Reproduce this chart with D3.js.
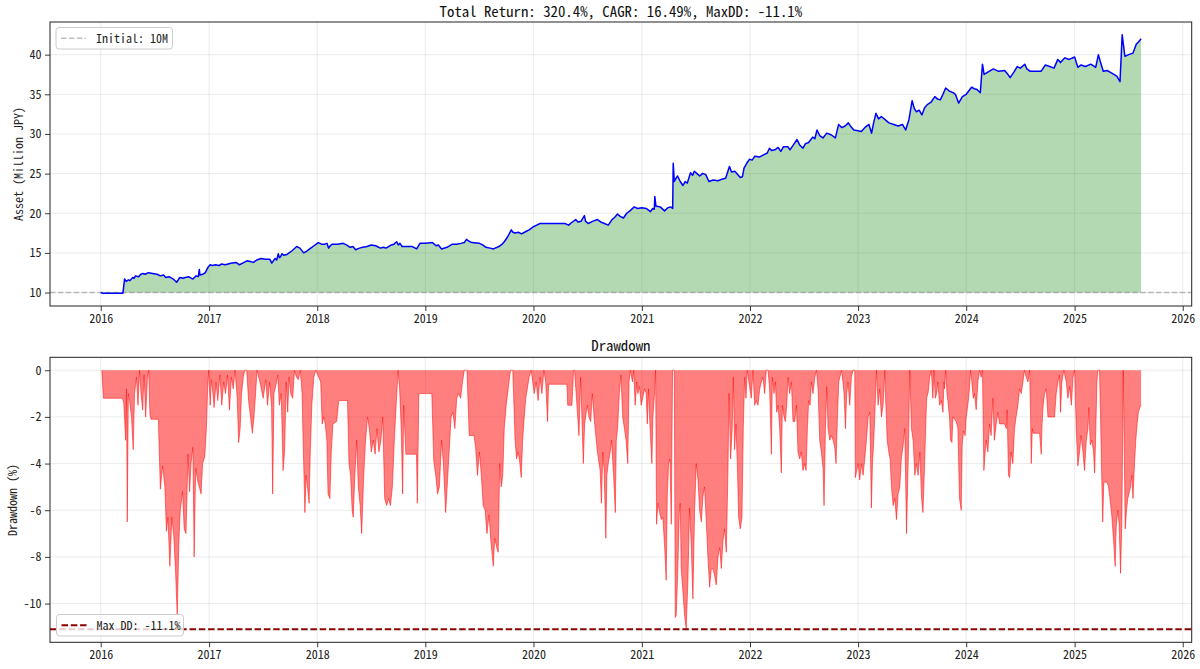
<!DOCTYPE html>
<html>
<head>
<meta charset="utf-8">
<script src="https://d3js.org/d3.v7.min.js"></script>
<style>
  body { margin: 0; background: #fff; }
  svg { display: block; }
  text { font-family: 'Noto Sans Mono CJK JP', 'Noto Sans CJK JP', 'DejaVu Sans Mono', monospace; }
</style>
</head>
<body>
<svg id="chart" width="1200" height="669"></svg>
<script>
// values, time given as decimal years
var assetData = [
  [2016.0, 10.0], [2016.02, 9.92], [2016.205, 9.92], [2016.22, 11.7], [2016.235, 11.4],
  [2016.255, 11.6], [2016.27, 11.5], [2016.295, 11.9], [2016.31, 11.8], [2016.32, 12.1],
  [2016.35, 12.0], [2016.37, 12.3], [2016.39, 12.4], [2016.41, 12.3], [2016.44, 12.5],
  [2016.48, 12.4], [2016.52, 12.3], [2016.55, 12.1], [2016.58, 12.2], [2016.6, 11.9],
  [2016.63, 12.0], [2016.67, 11.7], [2016.70, 11.3], [2016.73, 11.9], [2016.76, 11.8],
  [2016.78, 11.9], [2016.81, 12.0], [2016.85, 11.7], [2016.88, 12.1], [2016.9, 12.0],
  [2016.91, 12.9], [2016.915, 12.2], [2016.94, 12.3], [2016.965, 12.5], [2016.99, 13.2],
  [2017.01, 13.5], [2017.03, 13.4], [2017.06, 13.5], [2017.09, 13.4], [2017.115, 13.6],
  [2017.15, 13.5], [2017.2, 13.7], [2017.25, 13.8], [2017.28, 13.5], [2017.31, 13.7],
  [2017.35, 14.0], [2017.38, 13.9], [2017.41, 13.8], [2017.44, 14.1], [2017.48, 14.3],
  [2017.52, 14.2], [2017.56, 14.2], [2017.58, 13.7], [2017.61, 14.3], [2017.625, 14.1],
  [2017.64, 14.9], [2017.65, 14.4], [2017.66, 14.5], [2017.675, 14.9], [2017.69, 14.7],
  [2017.72, 14.8], [2017.74, 15.0], [2017.77, 15.3], [2017.81, 15.8], [2017.84, 15.6],
  [2017.875, 15.0], [2017.9, 15.2], [2017.94, 15.6], [2017.97, 15.9], [2018.01, 16.3],
  [2018.04, 16.1], [2018.07, 16.1], [2018.09, 16.2], [2018.105, 15.6], [2018.12, 15.9],
  [2018.14, 16.1], [2018.19, 16.1], [2018.24, 16.2], [2018.27, 16.0], [2018.305, 15.7],
  [2018.33, 15.8], [2018.355, 15.4], [2018.39, 15.6], [2018.42, 15.7], [2018.46, 15.8],
  [2018.5, 16.0], [2018.54, 15.9], [2018.585, 15.6], [2018.61, 15.7], [2018.635, 15.6],
  [2018.66, 15.8], [2018.685, 16.0], [2018.71, 16.1], [2018.735, 16.4], [2018.75, 16.0],
  [2018.765, 16.2], [2018.785, 15.8], [2018.835, 15.8], [2018.88, 15.8], [2018.92, 15.5],
  [2018.95, 16.2], [2019.0, 16.2], [2019.065, 16.3], [2019.1, 15.9], [2019.12, 16.0],
  [2019.15, 15.5], [2019.2, 15.7], [2019.25, 16.1], [2019.29, 16.1], [2019.33, 16.2],
  [2019.36, 16.3], [2019.38, 16.7], [2019.4, 16.5], [2019.43, 16.3], [2019.5, 16.2],
  [2019.53, 16.0], [2019.56, 15.7], [2019.6, 15.6], [2019.63, 15.5], [2019.68, 15.8],
  [2019.71, 16.1], [2019.73, 16.4], [2019.76, 17.0], [2019.795, 17.9], [2019.81, 17.6],
  [2019.83, 17.5], [2019.86, 17.6], [2019.89, 17.4], [2019.93, 17.7], [2019.96, 17.9],
  [2020.0, 18.3], [2020.03, 18.5], [2020.06, 18.7], [2020.125, 18.7], [2020.29, 18.7],
  [2020.325, 18.5], [2020.35, 18.8], [2020.39, 19.2], [2020.41, 18.9], [2020.44, 19.0],
  [2020.47, 19.7], [2020.48, 19.0], [2020.505, 18.7], [2020.55, 19.0], [2020.59, 19.2],
  [2020.62, 18.9], [2020.655, 18.7], [2020.69, 18.5], [2020.725, 19.2], [2020.75, 19.5],
  [2020.775, 19.9], [2020.8, 19.6], [2020.83, 19.4], [2020.86, 20.0], [2020.89, 20.3],
  [2020.93, 20.8], [2020.96, 20.6], [2021.0, 20.7], [2021.04, 20.6], [2021.08, 20.2],
  [2021.1, 20.6], [2021.115, 20.5], [2021.12, 22.1], [2021.13, 20.9], [2021.17, 20.8],
  [2021.21, 20.3], [2021.24, 20.7], [2021.265, 20.8], [2021.285, 20.6], [2021.29, 26.3],
  [2021.3, 24.0], [2021.315, 24.4], [2021.33, 24.7], [2021.355, 24.0], [2021.38, 23.5],
  [2021.4, 24.0], [2021.42, 23.8], [2021.45, 25.1], [2021.47, 24.8], [2021.485, 25.3],
  [2021.51, 25.0], [2021.535, 24.7], [2021.56, 25.0], [2021.59, 24.9], [2021.62, 24.0],
  [2021.66, 24.2], [2021.705, 24.1], [2021.74, 24.3], [2021.775, 24.4], [2021.81, 25.9],
  [2021.83, 25.2], [2021.86, 25.3], [2021.91, 24.5], [2021.93, 24.6], [2021.945, 25.7],
  [2021.97, 26.3], [2021.995, 26.8], [2022.02, 26.7], [2022.045, 27.2], [2022.09, 27.1],
  [2022.13, 27.4], [2022.16, 27.6], [2022.18, 28.2], [2022.2, 27.9], [2022.23, 28.0],
  [2022.26, 28.3], [2022.285, 27.8], [2022.31, 28.4], [2022.35, 28.4], [2022.37, 28.0],
  [2022.4, 28.6], [2022.435, 29.3], [2022.46, 28.6], [2022.49, 28.2], [2022.515, 28.8],
  [2022.54, 28.9], [2022.58, 29.6], [2022.6, 29.4], [2022.62, 30.5], [2022.645, 29.8],
  [2022.675, 29.5], [2022.71, 30.1], [2022.75, 29.9], [2022.79, 29.5], [2022.82, 31.2],
  [2022.85, 30.8], [2022.88, 31.0], [2022.91, 31.4], [2022.935, 30.9], [2022.96, 30.5],
  [2023.0, 30.4], [2023.03, 30.3], [2023.07, 30.9], [2023.1, 31.2], [2023.125, 30.1],
  [2023.145, 31.5], [2023.165, 32.6], [2023.19, 31.9], [2023.215, 32.2], [2023.25, 31.8],
  [2023.285, 31.4], [2023.33, 31.2], [2023.37, 31.0], [2023.41, 31.2], [2023.44, 30.5],
  [2023.47, 31.8], [2023.5, 34.2], [2023.52, 33.2], [2023.54, 32.8], [2023.565, 33.0],
  [2023.59, 32.4], [2023.615, 33.3], [2023.64, 33.7], [2023.675, 34.0], [2023.71, 34.7],
  [2023.735, 34.4], [2023.76, 34.3], [2023.785, 35.0], [2023.81, 35.8], [2023.845, 35.4],
  [2023.88, 35.2], [2023.9, 35.0], [2023.93, 33.9], [2023.965, 34.7], [2024.0, 35.0],
  [2024.05, 35.9], [2024.075, 35.7], [2024.1, 35.6], [2024.13, 35.2], [2024.15, 38.8],
  [2024.165, 37.5], [2024.2, 37.8], [2024.25, 38.2], [2024.3, 37.9], [2024.355, 38.0],
  [2024.38, 37.6], [2024.405, 37.1], [2024.44, 37.8], [2024.47, 38.5], [2024.5, 38.3],
  [2024.54, 38.8], [2024.56, 38.2], [2024.59, 37.9], [2024.69, 37.9], [2024.73, 38.7],
  [2024.77, 38.5], [2024.81, 38.3], [2024.845, 39.4], [2024.87, 39.0], [2024.91, 39.6],
  [2024.95, 39.4], [2025.0, 39.7], [2025.03, 38.4], [2025.06, 38.7], [2025.1, 38.5],
  [2025.15, 38.8], [2025.195, 38.4], [2025.22, 40.0], [2025.24, 39.0], [2025.265, 37.9],
  [2025.3, 38.0], [2025.34, 37.7], [2025.39, 37.3], [2025.42, 36.6], [2025.44, 42.5],
  [2025.465, 39.8], [2025.5, 40.0], [2025.54, 40.2], [2025.57, 41.3], [2025.59, 41.6],
  [2025.615, 42.0]
];

var drawdownData = [
  [2016.01, 0], [2016.025, -1.2], [2016.2, -1.2], [2016.213, -1.4], [2016.23, -3.0],
  [2016.238, -0.8], [2016.245, -6.5], [2016.255, -1.0], [2016.266, -1.3], [2016.284, -2.0],
  [2016.30, -3.4], [2016.312, -1.0], [2016.33, -0.3], [2016.344, -1.5], [2016.358, 0],
  [2016.372, -1.0], [2016.387, -1.7], [2016.40, -0.2], [2016.415, -2.0], [2016.43, -0.4],
  [2016.443, 0], [2016.454, -1.9], [2016.465, -2.1], [2016.532, -2.1], [2016.55, -5.1],
  [2016.571, -4.1], [2016.592, -5.0], [2016.606, -6.9], [2016.62, -6.3], [2016.638, -8.4],
  [2016.656, -6.3], [2016.674, -7.1], [2016.69, -8.6], [2016.706, -10.5], [2016.72, -7.5],
  [2016.734, -6.0], [2016.755, -5.2], [2016.77, -6.8], [2016.787, -7.0], [2016.805, -3.6],
  [2016.82, -5.2], [2016.833, -4.0], [2016.85, -3.3], [2016.862, -8.0], [2016.876, -4.2],
  [2016.897, -4.8], [2016.91, -5.0], [2016.926, -5.3], [2016.94, -4.0], [2016.96, -3.7],
  [2016.975, -2.5], [2016.986, -0.8], [2016.996, 0],
  [2017.01, -1.5], [2017.02, -0.4], [2017.035, -1.0], [2017.046, -1.6], [2017.064, -0.5],
  [2017.08, -1.3], [2017.1, -0.2], [2017.117, -1.5], [2017.135, -0.5], [2017.152, -1.0],
  [2017.17, -0.2], [2017.188, -1.7], [2017.206, -0.3], [2017.223, -0.8], [2017.24, 0],
  [2017.26, -1.2], [2017.273, -3.1], [2017.287, -2.5], [2017.3, -1.0], [2017.316, -0.3],
  [2017.33, 0], [2017.348, 0], [2017.365, -1.3], [2017.383, -2.0], [2017.40, -2.7],
  [2017.415, -2.0], [2017.43, -1.0], [2017.443, 0], [2017.47, -0.5], [2017.5, -1.2],
  [2017.525, -0.4], [2017.54, -1.5], [2017.56, -0.5], [2017.578, -1.6], [2017.588, -5.3],
  [2017.6, -1.0], [2017.62, -0.6], [2017.635, -0.2], [2017.65, -1.5], [2017.667, -1.0],
  [2017.684, -4.3], [2017.698, -3.5], [2017.713, -0.5], [2017.727, -1.8], [2017.74, -0.3],
  [2017.755, -1.0], [2017.773, -1.2], [2017.79, 0], [2017.808, -0.3], [2017.826, -0.4],
  [2017.844, 0], [2017.86, -1.0], [2017.872, -3.5], [2017.886, -6.1], [2017.897, -4.5],
  [2017.91, -5.0], [2017.925, -5.7], [2017.936, -3.5], [2017.95, -1.5], [2017.968, -0.3],
  [2017.986, 0],
  [2018.014, -0.3], [2018.032, -0.5], [2018.046, -2.3], [2018.06, -2.0], [2018.074, -2.3],
  [2018.089, -3.0], [2018.1, -5.3], [2018.117, -5.5], [2018.13, -3.5], [2018.145, -2.3],
  [2018.18, -2.2], [2018.199, -1.3], [2018.28, -1.3], [2018.294, -4.0], [2018.309, -4.5],
  [2018.323, -6.0], [2018.333, -6.3], [2018.348, -4.5], [2018.365, -3.0], [2018.38, -5.0],
  [2018.397, -5.8], [2018.411, -7.0], [2018.43, -4.5], [2018.447, -3.0], [2018.465, -2.0],
  [2018.482, -2.5], [2018.5, -3.5], [2018.518, -3.0], [2018.535, -3.6], [2018.553, -2.5],
  [2018.57, -3.5], [2018.589, -3.0], [2018.606, -2.0], [2018.624, -5.5], [2018.642, -5.8],
  [2018.66, -5.5], [2018.677, -5.8], [2018.695, -5.0], [2018.713, -3.0], [2018.73, -1.5],
  [2018.748, 0], [2018.762, -0.8], [2018.777, -2.5], [2018.79, -5.3], [2018.8, -1.5],
  [2018.82, -3.6], [2018.918, -3.6], [2018.926, -5.7], [2018.94, -1.0],
  [2019.06, -1.0], [2019.078, -3.9], [2019.096, -4.5], [2019.113, -5.3], [2019.13, -5.0],
  [2019.15, -3.0], [2019.167, -4.0], [2019.188, -6.1], [2019.202, -5.0], [2019.22, -3.5],
  [2019.238, -2.0], [2019.255, -1.8], [2019.273, -2.5], [2019.29, -1.2], [2019.308, -1.0],
  [2019.326, -1.2], [2019.344, -0.5], [2019.36, 0], [2019.385, 0], [2019.406, -2.8],
  [2019.45, -2.8], [2019.465, -3.3], [2019.482, -4.5], [2019.5, -3.5], [2019.518, -4.5],
  [2019.535, -5.8], [2019.553, -6.0], [2019.57, -7.0], [2019.589, -6.2], [2019.606, -7.3],
  [2019.628, -8.4], [2019.642, -7.2], [2019.66, -7.6], [2019.674, -7.8], [2019.688, -4.0],
  [2019.702, -5.0], [2019.716, -4.5], [2019.73, -2.5], [2019.748, -1.5], [2019.766, -0.8],
  [2019.787, 0], [2019.809, 0], [2019.83, -3.0], [2019.844, -3.8], [2019.858, -3.5],
  [2019.872, -3.9], [2019.887, -4.6], [2019.9, -3.0], [2019.915, -2.0], [2019.929, -1.2],
  [2019.943, -0.8], [2019.96, -0.3], [2019.979, 0],
  [2020.007, -1.0], [2020.025, -0.5], [2020.043, -1.3], [2020.06, -0.3], [2020.078, -1.0],
  [2020.096, 0], [2020.113, -0.5], [2020.13, -2.2], [2020.14, -0.6], [2020.309, -0.6],
  [2020.316, -1.5], [2020.355, -1.5], [2020.37, 0], [2020.379, 0], [2020.398, -1.3],
  [2020.42, -2.8], [2020.435, -0.3], [2020.46, -4.0], [2020.472, -2.3], [2020.497, -1.5],
  [2020.512, -2.0], [2020.528, -2.2], [2020.543, -1.0], [2020.559, -2.0], [2020.575, -2.8],
  [2020.59, -3.5], [2020.615, -4.3], [2020.627, -5.7], [2020.64, -3.5], [2020.652, -4.3],
  [2020.668, -7.2], [2020.677, -4.5], [2020.69, -4.0], [2020.708, -3.5], [2020.72, -3.0],
  [2020.739, -4.5], [2020.755, -6.1], [2020.764, -3.0], [2020.776, -2.5], [2020.792, -1.0],
  [2020.807, -0.2], [2020.823, -2.0], [2020.839, -2.5], [2020.854, -3.0], [2020.87, -4.0],
  [2020.882, -0.5], [2020.894, 0], [2020.913, -0.5], [2020.925, 0], [2020.938, -1.5],
  [2020.953, -0.5], [2020.963, -1.0], [2020.978, -0.7], [2020.994, -1.5],
  [2021.025, -0.8], [2021.04, -1.0], [2021.05, -2.3], [2021.062, -0.8], [2021.074, -2.3],
  [2021.093, -4.0], [2021.102, -2.0], [2021.117, -1.0], [2021.127, 0], [2021.136, -6.6],
  [2021.148, -5.7], [2021.164, -6.1], [2021.18, -6.4], [2021.194, -6.3], [2021.21, -7.5],
  [2021.225, -9.0], [2021.235, -5.4], [2021.247, -4.0], [2021.26, -3.8], [2021.272, -6.6],
  [2021.284, 0], [2021.3, 0], [2021.309, -10.6], [2021.318, -10.5], [2021.333, -8.5],
  [2021.346, -6.1], [2021.355, -5.7], [2021.364, -8.5], [2021.38, -9.5], [2021.395, -10.5],
  [2021.41, -11.1], [2021.426, -9.0], [2021.441, -5.9], [2021.457, -7.5], [2021.472, -9.8],
  [2021.488, -6.0], [2021.503, -4.0], [2021.519, -4.7], [2021.534, -6.0], [2021.55, -6.5],
  [2021.565, -5.4], [2021.58, -5.0], [2021.596, -6.5], [2021.611, -8.0], [2021.627, -9.3],
  [2021.642, -8.5], [2021.657, -8.5], [2021.673, -8.8], [2021.688, -9.2], [2021.704, -8.0],
  [2021.72, -7.6], [2021.735, -8.5], [2021.75, -7.3], [2021.765, -6.8], [2021.781, -7.8],
  [2021.796, -4.4], [2021.806, -1.0], [2021.821, -3.8], [2021.836, -2.5], [2021.846, -0.3],
  [2021.858, -3.4], [2021.87, -2.3], [2021.883, -4.0], [2021.895, -6.3], [2021.91, -6.8],
  [2021.926, -6.3], [2021.938, -2.5], [2021.951, -0.3], [2021.963, -1.2], [2021.975, 0],
  [2022.012, -1.2], [2022.028, 0], [2022.043, -1.5], [2022.059, -1.3], [2022.074, -1.5],
  [2022.09, -0.8], [2022.105, -0.5], [2022.12, -0.3], [2022.136, -1.0], [2022.151, 0],
  [2022.167, 0], [2022.182, -0.8], [2022.198, -3.6], [2022.207, -0.3], [2022.222, -1.0],
  [2022.235, -0.5], [2022.247, -1.8], [2022.26, -1.5], [2022.275, -2.5], [2022.29, -4.4],
  [2022.3, -1.5], [2022.315, -2.0], [2022.327, -2.2], [2022.34, -1.5], [2022.352, -0.3],
  [2022.367, -1.0], [2022.383, -0.5], [2022.398, -2.2], [2022.414, -2.2], [2022.43, -1.5],
  [2022.444, -3.5], [2022.46, -3.8], [2022.475, -3.5], [2022.49, -4.3], [2022.506, -4.0],
  [2022.519, -4.3], [2022.531, -2.5], [2022.543, -1.3], [2022.556, -1.5], [2022.568, -0.5],
  [2022.583, -1.0], [2022.6, -0.3], [2022.615, 0], [2022.63, -0.8], [2022.645, -3.0],
  [2022.66, -3.5], [2022.676, -4.2], [2022.685, -5.8], [2022.698, -2.5], [2022.71, -0.7],
  [2022.722, -2.5], [2022.738, -3.0], [2022.753, -2.8], [2022.769, -3.0], [2022.784, -3.3],
  [2022.796, -4.0], [2022.809, -2.0], [2022.821, -0.5], [2022.846, 0], [2022.86, -0.5],
  [2022.87, -1.0], [2022.883, -2.5], [2022.895, -1.0], [2022.907, -0.5], [2022.923, -1.5],
  [2022.938, -0.3], [2022.954, 0], [2022.969, 0], [2022.975, -4.6], [2023.0, -4.0],
  [2023.015, -4.7], [2023.031, -4.0], [2023.046, -4.5], [2023.062, -3.8], [2023.077, -3.0],
  [2023.093, -2.0], [2023.108, -1.8], [2023.123, -5.9], [2023.133, -4.0], [2023.145, -3.0],
  [2023.154, -2.0], [2023.17, 0], [2023.185, -1.5], [2023.2, -0.8], [2023.216, -2.0],
  [2023.231, -1.5], [2023.247, 0], [2023.253, -1.0], [2023.269, -3.0], [2023.284, -3.5],
  [2023.296, -3.8], [2023.309, -5.0], [2023.324, -5.8], [2023.34, -5.5], [2023.355, -6.4],
  [2023.37, -5.3], [2023.386, -5.0], [2023.4, -3.8], [2023.417, -3.2], [2023.432, -2.5],
  [2023.448, -7.0], [2023.463, -4.0], [2023.478, 0], [2023.494, -2.5], [2023.509, -3.0],
  [2023.525, -4.5], [2023.54, -4.0], [2023.556, -4.5], [2023.571, -3.5], [2023.587, -5.5],
  [2023.6, -6.1], [2023.614, -4.2], [2023.625, -2.5], [2023.634, -1.2], [2023.646, -1.0],
  [2023.652, -0.8], [2023.662, -0.3], [2023.677, 0], [2023.692, -1.2], [2023.702, 0],
  [2023.714, -1.2], [2023.726, -1.0], [2023.738, -0.5], [2023.754, -1.5], [2023.77, -1.3],
  [2023.785, -1.8], [2023.794, -0.5], [2023.8, -0.8], [2023.81, 0], [2023.822, -1.0],
  [2023.83, -1.3], [2023.846, -2.0], [2023.855, -3.0], [2023.868, -3.1], [2023.877, -2.0],
  [2023.892, -2.1], [2023.908, -2.2], [2023.923, -2.5], [2023.938, -5.5], [2023.954, -6.0],
  [2023.963, -3.2], [2023.975, -2.6], [2023.99, -2.8], [2024.0, -2.0], [2024.015, -1.5],
  [2024.03, -0.8], [2024.04, 0], [2024.052, -0.5], [2024.065, -1.2], [2024.077, -1.0],
  [2024.092, -1.7], [2024.108, -0.5], [2024.123, 0], [2024.138, -0.3], [2024.15, 0],
  [2024.163, -4.3], [2024.175, -3.5], [2024.185, -3.0], [2024.2, -3.5], [2024.215, -2.3],
  [2024.23, -2.8], [2024.246, -1.2], [2024.26, -3.0], [2024.277, -2.3], [2024.292, -1.8],
  [2024.308, -2.3], [2024.338, -2.3], [2024.354, -2.3], [2024.37, -2.5], [2024.378, -1.7],
  [2024.39, -4.5], [2024.4, -4.6], [2024.415, -3.5], [2024.43, -4.0], [2024.446, -2.5],
  [2024.46, -2.0], [2024.477, -1.5], [2024.492, -0.8], [2024.508, -1.0], [2024.523, -0.5],
  [2024.538, 0], [2024.554, -0.3], [2024.57, -0.5], [2024.585, 0], [2024.594, -2.0],
  [2024.6, -4.0], [2024.61, -2.5], [2024.618, -2.7], [2024.677, -2.7], [2024.692, -3.6],
  [2024.7, -2.3], [2024.71, -1.5], [2024.723, -1.0], [2024.738, -0.8], [2024.754, -2.0],
  [2024.815, -2.0], [2024.83, -1.0], [2024.846, -0.5], [2024.86, -0.2], [2024.87, -1.8],
  [2024.883, -0.5], [2024.9, 0], [2024.923, -0.5], [2024.938, -1.2], [2024.954, -0.7],
  [2024.97, -1.5], [2024.985, -0.3], [2025.0, 0], [2025.015, -2.5], [2025.03, -4.1],
  [2025.046, -3.5], [2025.06, -2.8], [2025.077, -3.5], [2025.092, -4.3], [2025.108, -3.0],
  [2025.123, -2.5], [2025.132, -1.6], [2025.145, -3.2], [2025.16, -3.0], [2025.175, -3.5],
  [2025.185, -4.4], [2025.194, -3.0], [2025.206, -0.5], [2025.215, 0], [2025.23, 0],
  [2025.24, -2.0], [2025.252, -4.8], [2025.26, -6.5], [2025.27, -4.8], [2025.3, -4.8],
  [2025.314, -5.0], [2025.332, -5.7], [2025.345, -6.3], [2025.363, -7.5], [2025.375, -8.4],
  [2025.385, -6.7], [2025.4, -6.0], [2025.412, -6.6], [2025.425, -8.7], [2025.437, -6.5],
  [2025.45, 0], [2025.468, -6.8], [2025.48, -6.0], [2025.492, -5.5], [2025.517, -5.0],
  [2025.53, -4.5], [2025.54, -5.5], [2025.554, -4.0], [2025.566, -3.0], [2025.578, -2.3],
  [2025.59, -1.8], [2025.603, -1.6], [2025.615, -1.5]
];

var yearTicks = [2016, 2017, 2018, 2019, 2020, 2021, 2022, 2023, 2024, 2025, 2026];
var assetTicks = [10, 15, 20, 25, 30, 35, 40];
var drawdownTicks = [0, -2, -4, -6, -8, -10];
var initialAsset = 10;
var maxDrawdown = -11.1;
var titleText = 'Total Return: 320.4%, CAGR: 16.49%, MaxDD: -11.1%';

function toDate(y) {
  var yr = Math.floor(y);
  var start = Date.UTC(yr, 0, 1);
  var end = Date.UTC(yr + 1, 0, 1);
  return new Date(start + (y - yr) * (end - start));
}

var svg = d3.select('#chart');
var left = 50, right = 1191.7;

var x = d3.scaleUtc()
  .domain([toDate(2015.531), toDate(2026.083)])
  .range([left, right]);

var yTop = d3.scaleLinear().domain([8.3, 44.12]).range([306, 22]);
var yBot = d3.scaleLinear().domain([-11.66, 0.555]).range([642.3, 357.3]);

function drawPanel(id, y, ticks, top, bottom) {
  var g = svg.append('g').attr('class', 'panel-' + id);

  svg.append('clipPath').attr('id', 'clip-' + id)
    .append('rect')
    .attr('x', left).attr('y', top)
    .attr('width', right - left).attr('height', bottom - top);

  // grid
  g.append('g').selectAll('line').data(yearTicks).enter().append('line')
    .attr('x1', function (d) { return x(toDate(d)); })
    .attr('x2', function (d) { return x(toDate(d)); })
    .attr('y1', top).attr('y2', bottom)
    .attr('stroke', '#b0b0b0').attr('stroke-opacity', 0.3).attr('stroke-width', 0.8);
  g.append('g').selectAll('line').data(ticks).enter().append('line')
    .attr('x1', left).attr('x2', right)
    .attr('y1', function (d) { return y(d); })
    .attr('y2', function (d) { return y(d); })
    .attr('stroke', '#b0b0b0').attr('stroke-opacity', 0.3).attr('stroke-width', 0.8);

  var plot = g.append('g').attr('clip-path', 'url(#clip-' + id + ')');

  var xAxis = d3.axisBottom(x)
    .tickValues(yearTicks.map(toDate))
    .tickFormat(d3.utcFormat('%Y'))
    .tickSize(5).tickPadding(3);
  var yAxis = d3.axisLeft(y)
    .tickValues(ticks)
    .tickFormat(function (d) { return String(d); })
    .tickSize(5).tickPadding(3.5);

  var gx = g.append('g').attr('transform', 'translate(0,' + bottom + ')').call(xAxis);
  var gy = g.append('g').attr('transform', 'translate(' + left + ',0)').call(yAxis);
  [gx, gy].forEach(function (a) {
    a.select('.domain').remove();
    a.selectAll('line').attr('stroke', '#222').attr('stroke-width', 0.9);
    a.selectAll('text').attr('fill', '#222').style('font-size', '12px');
  });

  return { g: g, plot: plot };
}

// top panel: asset
var topPanel = drawPanel('asset', yTop, assetTicks, 22, 306);

topPanel.plot.append('path')
  .datum(assetData)
  .attr('fill', 'green').attr('fill-opacity', 0.3)
  .attr('d', d3.area()
    .x(function (d) { return x(toDate(d[0])); })
    .y0(yTop(initialAsset))
    .y1(function (d) { return yTop(d[1]); }));

topPanel.plot.append('line')
  .attr('x1', left).attr('x2', right)
  .attr('y1', yTop(initialAsset)).attr('y2', yTop(initialAsset))
  .attr('stroke', 'gray').attr('stroke-opacity', 0.5)
  .attr('stroke-width', 1.5).attr('stroke-dasharray', '5.5,2.4');

topPanel.plot.append('path')
  .datum(assetData)
  .attr('fill', 'none').attr('stroke', 'blue').attr('stroke-width', 1.5)
  .attr('stroke-linejoin', 'round')
  .attr('d', d3.line()
    .x(function (d) { return x(toDate(d[0])); })
    .y(function (d) { return yTop(d[1]); }));

// bottom panel: drawdown
var botPanel = drawPanel('dd', yBot, drawdownTicks, 357.3, 642.3);

botPanel.plot.append('path')
  .datum(drawdownData)
  .attr('fill', 'red').attr('fill-opacity', 0.5)
  .attr('d', d3.area()
    .x(function (d) { return x(toDate(d[0])); })
    .y0(yBot(0))
    .y1(function (d) { return yBot(d[1]); }));

botPanel.plot.append('path')
  .datum(drawdownData)
  .attr('fill', 'none').attr('stroke', 'red').attr('stroke-opacity', 0.5)
  .attr('stroke-width', 1)
  .attr('d', d3.line()
    .x(function (d) { return x(toDate(d[0])); })
    .y(function (d) { return yBot(d[1]); }));

botPanel.plot.append('line')
  .attr('x1', left).attr('x2', right)
  .attr('y1', yBot(maxDrawdown)).attr('y2', yBot(maxDrawdown))
  .attr('stroke', 'darkred').attr('stroke-width', 1.8)
  .attr('stroke-dasharray', '6.5,2.8');

// frames
[[22, 306], [357.3, 642.3]].forEach(function (r) {
  svg.append('rect')
    .attr('x', left).attr('y', r[0])
    .attr('width', right - left).attr('height', r[1] - r[0])
    .attr('fill', 'none').attr('stroke', '#222').attr('stroke-width', 1);
});

// legends
function legend(x0, y0, w, h, color, opacity, width, dash, label) {
  var lg = svg.append('g');
  lg.append('rect')
    .attr('x', x0).attr('y', y0).attr('width', w).attr('height', h)
    .attr('rx', 3).attr('fill', 'white').attr('fill-opacity', 0.8)
    .attr('stroke', '#cccccc').attr('stroke-width', 1);
  lg.append('line')
    .attr('x1', x0 + 5).attr('x2', x0 + 30)
    .attr('y1', y0 + h / 2).attr('y2', y0 + h / 2)
    .attr('stroke', color).attr('stroke-opacity', opacity)
    .attr('stroke-width', width).attr('stroke-dasharray', dash);
  lg.append('text')
    .attr('x', x0 + 40).attr('y', y0 + h / 2)
    .attr('dy', '0.36em')
    .attr('fill', '#222').style('font-size', '12px')
    .text(label);
}

legend(56, 27.5, 116.5, 21.5, 'gray', 0.5, 1.5, '5.5,2.4', 'Initial: 10M');
legend(56.5, 614.5, 127, 21.5, 'darkred', 1, 1.8, '6.5,2.8', 'Max DD: -11.1%');

// titles and axis labels
svg.append('text')
  .attr('x', (left + right) / 2).attr('y', 16.5)
  .attr('text-anchor', 'middle').attr('fill', '#111')
  .style('font-size', '14.8px')
  .text(titleText);

svg.append('text')
  .attr('x', (left + right) / 2).attr('y', 351)
  .attr('text-anchor', 'middle').attr('fill', '#111')
  .style('font-size', '14.8px')
  .text('Drawdown');

svg.append('text')
  .attr('transform', 'translate(22.5,164) rotate(-90)')
  .attr('text-anchor', 'middle').attr('fill', '#222')
  .style('font-size', '12px')
  .text('Asset (Million JPY)');

svg.append('text')
  .attr('transform', 'translate(16.5,500) rotate(-90)')
  .attr('text-anchor', 'middle').attr('fill', '#222')
  .style('font-size', '12px')
  .text('Drawdown (%)');
</script>
</body>
</html>
